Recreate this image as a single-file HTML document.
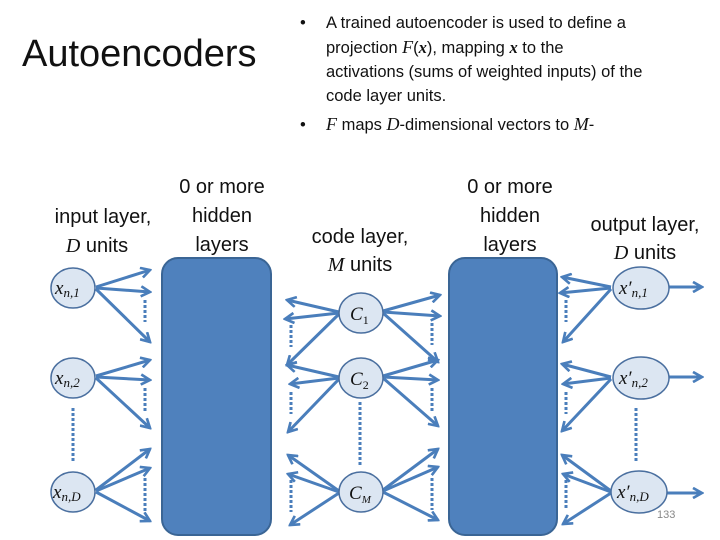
<!DOCTYPE html>
<html><head><meta charset="utf-8"><style>
body{margin:0;background:#fff;width:720px;height:540px;overflow:hidden}
svg{display:block}
.t{font-family:"Liberation Sans",sans-serif;fill:#111}
.m{font-family:"Liberation Serif",serif;font-style:italic;fill:#111}
</style></head><body>
<svg width="720" height="540" viewBox="0 0 720 540" xmlns="http://www.w3.org/2000/svg">
<defs>
<marker id="a" viewBox="0 0 10 10" refX="8.5" refY="5" markerWidth="4" markerHeight="4" orient="auto" markerUnits="strokeWidth">
<path d="M1,0.8 L8.5,5 L1,9.2" fill="none" stroke="#4a7ebb" stroke-width="2.2"/>
</marker>
</defs>
<text x="22" y="66" class="t" font-size="38">Autoencoders</text>
<g class="t" font-size="16.5">
<text x="300" y="28">•</text><text x="326" y="28">A trained autoencoder is used to define a</text>
<text x="326" y="53">projection <tspan class="m" font-size="18">F</tspan>(<tspan font-family="Liberation Serif" font-weight="bold" font-style="italic">x</tspan>), mapping <tspan font-family="Liberation Serif" font-weight="bold" font-style="italic">x</tspan> to the</text>
<text x="326" y="77">activations (sums of weighted inputs) of the</text>
<text x="326" y="101">code layer units.</text>
<text x="300" y="130">•</text><text x="326" y="130"><tspan class="m" font-size="18">F</tspan> maps <tspan class="m" font-size="18">D</tspan>-dimensional vectors to <tspan class="m" font-size="18">M</tspan>-</text>
</g>
<g class="t" font-size="20" text-anchor="middle">
<text x="103" y="223">input layer,</text><text x="97" y="252"><tspan class="m">D</tspan> units</text>
<text x="222" y="193">0 or more</text><text x="222" y="222">hidden</text><text x="222" y="251">layers</text>
<text x="360" y="243">code layer,</text><text x="360" y="271"><tspan class="m">M</tspan> units</text>
<text x="510" y="193">0 or more</text><text x="510" y="222">hidden</text><text x="510" y="251">layers</text>
<text x="645" y="231">output layer,</text><text x="645" y="259"><tspan class="m">D</tspan> units</text>
</g>
<rect x="162" y="258" width="109" height="277" rx="16" fill="#4f81bd" stroke="#3a6595" stroke-width="2"/>
<rect x="449" y="258" width="108" height="277" rx="16" fill="#4f81bd" stroke="#3a6595" stroke-width="2"/>
<g stroke="#4a7ebb" stroke-width="3" fill="none" marker-end="url(#a)">
<path d="M96,287L150,270"/><path d="M96,288L150,292"/><path d="M96,289L150,342"/>
<path d="M96,376L150,360"/><path d="M96,377L150,380"/><path d="M96,378L150,428"/>
<path d="M96,490L150,449"/><path d="M96,491L150,468"/><path d="M96,492L150,521"/>
<path d="M339,312L287,300"/><path d="M339,313L285,319"/><path d="M339,314L287,365"/>
<path d="M339,377L287,365"/><path d="M339,378L290,384"/><path d="M339,379L288,432"/>
<path d="M339,491L288,455"/><path d="M339,492L288,474"/><path d="M339,493L290,525"/>
<path d="M383,311L440,295"/><path d="M383,312L440,316"/><path d="M383,313L438,362"/>
<path d="M383,376L438,360"/><path d="M383,377L438,380"/><path d="M383,378L438,426"/>
<path d="M383,490L438,449"/><path d="M383,491L438,467"/><path d="M383,492L438,520"/>
<path d="M611,287L562,277"/><path d="M611,288L560,293"/><path d="M611,289L563,342"/>
<path d="M611,377L562,364"/><path d="M611,378L563,384"/><path d="M611,379L562,431"/>
<path d="M611,491L562,455"/><path d="M611,492L563,474"/><path d="M611,493L563,524"/>
<path d="M669,287L702,287"/><path d="M669,377L702,377"/><path d="M667,493L702,493"/>
</g>
<g stroke="#4a7ebb" stroke-width="3" stroke-dasharray="3,2">
<path d="M145,300V322M145,388V412M145,478V512M73,408V462"/>
<path d="M291,325V347M291,392V414M291,480V512"/>
<path d="M432,323V345M432,388V412M432,478V510M360,402V466"/>
<path d="M566,300V322M566,392V414M566,480V510M636,408V462"/>
</g>
<g fill="#dce6f2" stroke="#4a6f9f" stroke-width="1.5">
<ellipse cx="73" cy="288" rx="22" ry="20"/><ellipse cx="73" cy="378" rx="22" ry="20"/><ellipse cx="73" cy="492" rx="22" ry="20"/>
<ellipse cx="361" cy="313" rx="22" ry="20"/><ellipse cx="361" cy="378" rx="22" ry="20"/><ellipse cx="361" cy="492" rx="22" ry="20"/>
<ellipse cx="641" cy="288" rx="28" ry="21"/><ellipse cx="641" cy="378" rx="28" ry="21"/><ellipse cx="639" cy="492" rx="28" ry="21"/>
</g>
<g class="m" font-size="19">
<text x="55" y="294">x<tspan font-size="13" dy="3">n,1</tspan></text>
<text x="55" y="384">x<tspan font-size="13" dy="3">n,2</tspan></text>
<text x="53" y="498">x<tspan font-size="13" dy="3">n,D</tspan></text>
<text x="350" y="320">C<tspan font-size="12" dy="4" font-style="normal">1</tspan></text>
<text x="350" y="385">C<tspan font-size="12" dy="4" font-style="normal">2</tspan></text>
<text x="349" y="499">C<tspan font-size="11" dy="4">M</tspan></text>
<text x="619" y="294">x′<tspan font-size="13" dy="3">n,1</tspan></text>
<text x="619" y="384">x′<tspan font-size="13" dy="3">n,2</tspan></text>
<text x="617" y="498">x′<tspan font-size="13" dy="3">n,D</tspan></text>
</g>
<text x="657" y="518" font-family="Liberation Sans" font-size="11" fill="#888">133</text>
</svg>
</body></html>
